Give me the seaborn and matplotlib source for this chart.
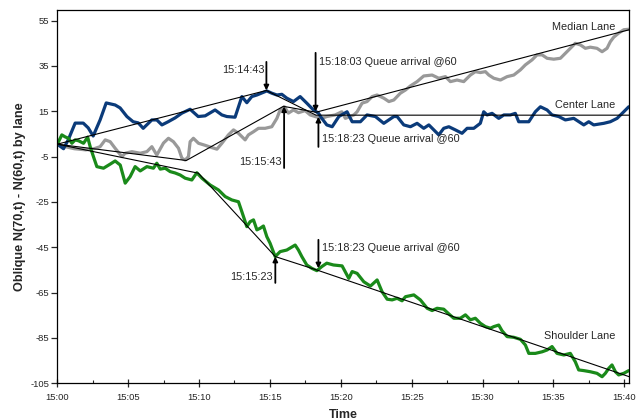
import numpy as np
import pandas as pd
import matplotlib
matplotlib.use("Agg")
import matplotlib.pyplot as plt
import seaborn as sns

# ---------------- data (minutes after 15:00, value) ----------------
median_t = [0.0, 0.5, 1.2, 2.0, 2.6, 3.02, 3.38, 3.73, 4.08, 4.56, 4.79, 5.26, 5.85, 6.32, 6.67,
            7.02, 7.49, 7.84, 8.19, 8.55, 8.79, 9.02, 9.25, 9.37, 9.60, 9.96, 10.43, 10.90, 11.26,
            11.61, 12.07, 12.43, 12.78, 13.25, 13.48, 13.84, 14.19, 14.66, 15.13, 15.49, 15.72,
            16.02, 16.30, 16.66, 17.01, 17.48, 17.84, 18.19, 18.66, 19.01, 19.60, 20.07, 20.32,
            20.92, 21.15, 21.50, 21.85, 22.21, 22.56, 23.03, 23.39, 23.74, 24.20, 24.56, 24.91,
            25.38, 25.85, 26.44, 26.91, 27.38, 27.73, 28.20, 28.67, 29.14, 29.49, 29.84, 30.20,
            30.44, 30.79, 31.26, 31.73, 32.20, 32.67, 33.02, 33.49, 33.84, 34.20, 34.55, 35.02,
            35.49, 35.84, 36.19, 36.54, 36.90, 37.25, 37.60, 38.07, 38.43, 38.78, 39.01, 39.25,
            39.60, 39.96, 40.31]
median_v = [0.5, -0.5, -1.5, -2.0, -1.5, -0.6, 2.4, 1.6, -1.3, -5.0, -3.5, -2.8, -3.5, -2.8, -0.6,
            -4.3, 1.0, 3.1, 1.6, -1.3, -5.7, -6.5, -5.0, 1.6, 3.1, 0.9, 0.0, -1.0, -1.7,
            0.9, 4.6, 6.8, 5.3, 2.4, 4.6, 6.0, 7.5, 7.5, 8.2, 11.9, 15.6,
            17.0, 14.2, 15.6, 14.4, 15.3, 13.4, 12.7, 11.9, 12.7, 13.4, 14.8, 11.9,
            13.4, 14.8, 18.6, 19.3, 21.5, 22.2, 20.8, 19.3, 20.0, 23.0, 24.4, 26.2,
            28.1, 30.6, 31.0, 29.6, 30.3, 28.1, 28.8, 28.1, 31.0, 32.5, 32.1, 32.5,
            31.0, 29.6, 28.8, 30.3, 31.0, 33.3, 35.5, 37.7, 39.9, 39.9, 38.4, 38.0,
            38.4, 40.6, 42.8, 45.0, 44.3, 42.8, 43.3, 42.8, 41.3, 42.8, 45.7, 47.7,
            49.5, 51.0, 51.2]

center_t = [0.0, 0.44, 0.77, 1.26, 1.83, 2.18, 2.53, 3.02, 3.45, 4.08, 4.43, 4.91, 5.35, 5.71,
            6.06, 6.67, 7.02, 7.38, 7.82, 8.31, 8.79, 9.37, 9.94, 10.43, 11.13, 11.61, 11.96,
            12.54, 13.02, 13.37, 13.72, 14.08, 14.78, 15.13, 15.49, 15.84, 16.19, 16.66, 17.13,
            17.60, 18.07, 18.42, 18.66, 19.01, 19.39, 19.86, 20.44, 20.80, 21.38, 21.85, 22.44,
            23.03, 23.74, 23.97, 24.44, 24.91, 25.38, 25.85, 26.21, 26.91, 27.26, 27.62, 28.08,
            28.55, 28.91, 29.38, 29.84, 30.08, 30.32, 30.67, 31.14, 31.50, 31.96, 32.31, 32.55,
            33.26, 33.72, 34.08, 34.55, 34.90, 35.37, 35.84, 36.43, 37.14, 37.49, 37.84, 38.55,
            39.01, 39.49, 39.96, 40.31]
center_v = [0.5, -1.5, 2.4, 9.8, 9.8, 7.7, 4.1, 11.2, 18.7, 17.8, 16.5, 12.7, 10.4, 9.9,
            7.5, 11.2, 11.2, 9.0, 10.4, 12.1, 14.2, 15.9, 12.7, 13.0, 15.6, 13.4, 12.7,
            12.4, 21.5, 18.8, 21.5, 22.2, 24.0, 23.0, 22.2, 22.5, 20.8, 19.3, 21.5,
            18.6, 15.6, 14.2, 11.9, 9.0, 8.2, 12.7, 14.8, 10.4, 10.4, 13.4, 12.7,
            9.7, 12.7, 12.7, 9.0, 8.2, 9.7, 7.5, 9.0, 4.6, 7.5, 8.2, 6.8,
            5.3, 7.5, 7.5, 9.7, 14.8, 13.4, 14.1, 11.9, 13.4, 13.4, 14.1, 10.4,
            10.4, 14.8, 17.0, 15.6, 13.4, 12.7, 11.2, 11.9, 9.0, 10.4, 9.0, 9.7,
            10.4, 11.9, 14.8, 17.0]

shoulder_t = [0.0, 0.32, 0.56, 0.79, 1.03, 1.26, 1.50, 1.85, 2.14, 2.32, 2.55, 2.79, 3.26, 3.73,
              4.08, 4.44, 4.79, 5.14, 5.49, 5.85, 6.32, 6.78, 7.02, 7.26, 7.61, 7.96, 8.31, 8.67,
              9.02, 9.49, 9.84, 10.20, 10.78, 11.37, 11.84, 12.31, 12.78, 13.02, 13.37, 13.60,
              13.84, 14.08, 14.31, 14.54, 14.78, 15.01, 15.37, 15.72, 16.19, 16.78, 17.01, 17.25,
              17.60, 17.96, 18.31, 18.66, 19.01, 19.48, 20.09, 20.56, 20.80, 21.15, 21.62, 22.09,
              22.56, 22.91, 23.27, 23.62, 23.97, 24.32, 24.56, 25.15, 25.61, 26.09, 26.44, 26.79,
              27.26, 27.62, 27.97, 28.43, 28.79, 29.14, 29.49, 29.84, 30.20, 30.55, 30.79, 31.14,
              31.37, 31.73, 32.20, 32.67, 33.02, 33.26, 33.72, 34.20, 34.55, 34.90, 35.25, 35.73,
              36.19, 36.54, 36.78, 37.14, 37.60, 38.07, 38.43, 38.66, 38.90, 39.13, 39.37, 39.60,
              39.96, 40.31]
shoulder_v = [0.5, 4.6, 3.7, 3.1, 0.9, 2.4, 2.0, 0.9, 3.6, -0.6, -5.0, -9.4, -10.1, -8.3,
              -6.9, -8.7, -16.7, -13.8, -9.4, -11.3, -9.4, -10.1, -7.9, -10.5, -10.1, -11.6, -12.2, -13.1,
              -14.5, -15.3, -12.1, -14.5, -17.5, -19.7, -22.6, -24.1, -24.9, -29.3, -35.9, -33.7,
              -32.9, -37.3, -36.6, -35.6, -40.3, -43.2, -49.1, -46.9, -46.2, -44.0, -46.2, -49.1,
              -52.8, -54.3, -55.3, -53.5, -52.0, -52.8, -53.2, -58.7, -55.7, -56.5, -60.2, -62.1,
              -59.4, -64.6, -67.9, -68.2, -67.5, -68.6, -66.8, -66.0, -68.2, -71.9, -72.9, -71.9,
              -72.3, -74.4, -76.3, -76.3, -74.8, -77.0, -76.3, -78.5, -80.0, -80.7, -80.0, -79.3,
              -81.8, -84.4, -84.7, -85.6, -88.1, -91.8, -91.8, -91.1, -90.3, -88.8, -91.8, -92.5,
              -91.8, -95.5, -99.1, -99.4, -99.9, -100.6, -102.1, -100.6, -98.4, -96.9, -99.9, -101.3,
              -100.6, -99.4]

# piecewise trend lines
median_trend_t = [0.0, 9.1, 15.95, 18.25, 40.35]
median_trend_v = [0.5, -6.7, 17.2, 14.6, 51.0]
center_trend_t = [0.0, 14.75, 18.25, 40.35]
center_trend_v = [0.5, 24.2, 13.3, 13.3]
shoulder_trend_t = [0.0, 9.95, 15.38, 18.4, 40.35]
shoulder_trend_v = [0.5, -12.3, -49.1, -55.2, -102.1]

lanes = ["Median Lane", "Center Lane", "Shoulder Lane"]
lane_colors = ["#999999", "#0b3b7a", "#1a8a1a"]

x_ticks = [0, 5, 10, 15, 20, 25, 30, 35, 40]
x_tick_labels = ["15:00", "15:05", "15:10", "15:15", "15:20", "15:25", "15:30", "15:35", "15:40"]
y_ticks = [55, 35, 15, -5, -25, -45, -65, -85, -105]

# ---------------- build frames ----------------
df = pd.concat([
    pd.DataFrame({"t": median_t, "v": median_v, "lane": lanes[0]}),
    pd.DataFrame({"t": center_t, "v": center_v, "lane": lanes[1]}),
    pd.DataFrame({"t": shoulder_t, "v": shoulder_v, "lane": lanes[2]}),
], ignore_index=True)
trend = pd.concat([
    pd.DataFrame({"t": median_trend_t, "v": median_trend_v, "lane": lanes[0]}),
    pd.DataFrame({"t": center_trend_t, "v": center_trend_v, "lane": lanes[1]}),
    pd.DataFrame({"t": shoulder_trend_t, "v": shoulder_trend_v, "lane": lanes[2]}),
], ignore_index=True)

sns.set_style("ticks")
plt.rcParams["font.family"] = ["Liberation Sans", "DejaVu Sans"]
plt.rcParams["axes.unicode_minus"] = False

W, H = 637, 420
fig = plt.figure(figsize=(W / 100, H / 100), dpi=100)
ax = fig.add_axes([57.3 / W, 1 - 383.3 / H, (629.3 - 57.3) / W, (383.3 - 10) / H])

sns.lineplot(data=df, x="t", y="v", hue="lane", hue_order=lanes,
             palette=dict(zip(lanes, lane_colors)), estimator=None, sort=False,
             linewidth=2.3, legend=False, ax=ax)
sns.lineplot(data=trend, x="t", y="v", units="lane", estimator=None, sort=False,
             color="black", linewidth=0.8, legend=False, ax=ax)

ax.set_xlim(0, 40.35)
ax.set_ylim(-105, 59.7)
ax.set_xticks(x_ticks)
ax.set_xticklabels(x_tick_labels)
ax.set_xticks([2.5, 7.5, 12.5, 17.5, 22.5, 27.5, 32.5, 37.5], minor=True)
ax.set_yticks(y_ticks)
ax.set_yticklabels([str(v) for v in y_ticks])
ax.tick_params(axis="x", which="major", direction="inout", length=6, width=0.9, labelsize=6.8, pad=4)
ax.tick_params(axis="x", which="minor", direction="in", length=2.5, width=0.8)
ax.tick_params(axis="y", which="major", direction="out", length=4, width=0.9, labelsize=6.8, pad=2)
for s in ax.spines.values():
    s.set_linewidth(0.9)
    s.set_color("black")

ax.set_xlabel("Time", fontsize=9, fontweight="bold", labelpad=5)
ax.set_ylabel("Oblique N(70,t) - N(60,t) by lane", fontsize=9.2, fontweight="bold", labelpad=3)

# ---------------- annotations ----------------
ap = dict(arrowstyle="-|>", color="black", lw=1.3, mutation_scale=7, shrinkA=0, shrinkB=0)
fs = 7.8
# 15:14:43 -> center peak
ax.annotate("", xy=(14.75, 24.2), xytext=(14.75, 36.8), arrowprops=ap)
ax.text(14.6, 33.3, "15:14:43", ha="right", va="center", fontsize=fs)
# 15:15:43 -> median peak
ax.annotate("", xy=(16.0, 17.2), xytext=(16.0, -10.0), arrowprops=ap)
ax.text(15.85, -7.2, "15:15:43", ha="right", va="center", fontsize=fs)
# 15:15:23 -> shoulder
ax.annotate("", xy=(15.38, -49.1), xytext=(15.38, -60.7), arrowprops=ap)
ax.text(15.23, -58.2, "15:15:23", ha="right", va="center", fontsize=fs)
# 15:18:03 queue arrival (median)
ax.annotate("", xy=(18.22, 14.9), xytext=(18.22, 40.8), arrowprops=ap)
ax.text(18.45, 36.9, "15:18:03 Queue arrival @60", ha="left", va="center", fontsize=fs)
# 15:18:23 queue arrival (center)
ax.annotate("", xy=(18.42, 12.6), xytext=(18.42, -0.7), arrowprops=ap)
ax.text(18.65, 2.9, "15:18:23 Queue arrival @60", ha="left", va="center", fontsize=fs)
# 15:18:23 queue arrival (shoulder)
ax.annotate("", xy=(18.42, -54.3), xytext=(18.42, -41.7), arrowprops=ap)
ax.text(18.65, -45.2, "15:18:23 Queue arrival @60", ha="left", va="center", fontsize=fs)

# lane labels
ax.text(39.35, 52.1, "Median Lane", ha="right", va="center", fontsize=fs)
ax.text(39.35, 17.8, "Center Lane", ha="right", va="center", fontsize=fs)
ax.text(39.35, -84.1, "Shoulder Lane", ha="right", va="center", fontsize=fs)

fig.savefig("out.png", dpi=100)
